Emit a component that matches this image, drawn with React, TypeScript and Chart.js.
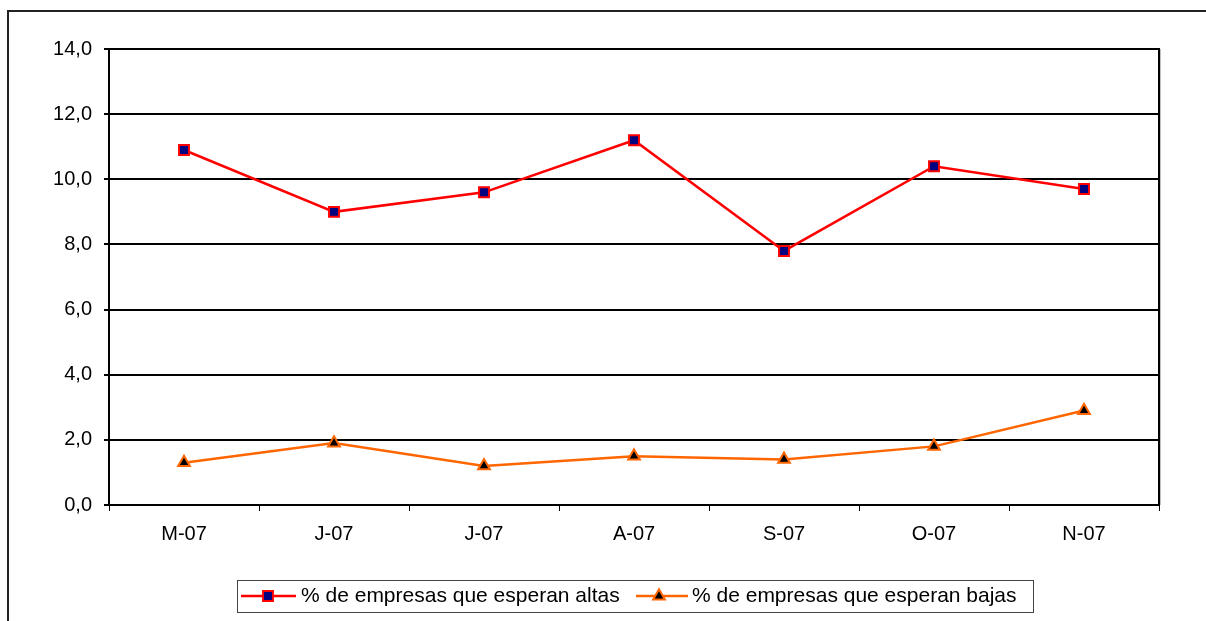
import React, { useEffect, useRef } from "react";
import { Chart, registerables } from "chart.js";

Chart.register(...registerables);

const categories = ["M-07", "J-07", "J-07", "A-07", "S-07", "O-07", "N-07"];
const altas = [10.9, 9.0, 9.6, 11.2, 7.8, 10.4, 9.7];
const bajas = [1.3, 1.9, 1.2, 1.5, 1.4, 1.8, 2.9];
const seriesNames = ["% de empresas que esperan altas", "% de empresas que esperan bajas"];
const yMin = 0;
const yMax = 14;
const yStep = 2;

const FONT = '"Liberation Sans", Arial, sans-serif';

const framePlugin = {
  id: "framePlugin",
  afterDraw(chart: any) {
    const { ctx, chartArea } = chart;
    const { left, top, right, bottom } = chartArea;
    ctx.save();
    // outer frame
    ctx.strokeStyle = "#222";
    ctx.lineWidth = 2;
    ctx.beginPath();
    ctx.moveTo(8, 621);
    ctx.lineTo(8, 11);
    ctx.lineTo(1206, 11);
    ctx.stroke();
    // light edge
    ctx.strokeStyle = "#c0c0c0";
    ctx.lineWidth = 1;
    ctx.beginPath();
    ctx.moveTo(right + 1.5, top);
    ctx.lineTo(right + 1.5, bottom);
    ctx.stroke();
    // plot border
    ctx.strokeStyle = "#000";
    ctx.lineWidth = 2;
    ctx.strokeRect(left, top, right - left, bottom - top);

    // legend
    const ly = 596;
    ctx.strokeStyle = "#444";
    ctx.lineWidth = 1;
    ctx.strokeRect(237.5, 580.5, 796, 32);
    ctx.font = `21px ${FONT}`;
    ctx.textBaseline = "middle";
    ctx.fillStyle = "#000";
    const entries = [
      { x0: 241, x1: 296, mx: 268, tx: 301 },
      { x0: 636, x1: 688, mx: 659, tx: 692 },
    ];
    chart.data.datasets.forEach((ds: any, i: number) => {
      const e = entries[i];
      ctx.strokeStyle = ds.borderColor;
      ctx.lineWidth = ds.borderWidth;
      ctx.beginPath();
      ctx.moveTo(e.x0, ly);
      ctx.lineTo(e.x1, ly);
      ctx.stroke();
      ctx.fillStyle = ds.pointBackgroundColor;
      ctx.strokeStyle = ds.pointBorderColor;
      ctx.lineWidth = 2;
      ctx.beginPath();
      if (ds.pointStyle === "rect") {
        const s = ds.pointRadius * Math.SQRT1_2;
        ctx.rect(e.mx - s, ly - s, 2 * s, 2 * s);
      } else {
        const r = ds.pointRadius;
        ctx.moveTo(e.mx, ly - r);
        ctx.lineTo(e.mx + r * Math.sin(Math.PI / 3), ly + r / 2);
        ctx.lineTo(e.mx - r * Math.sin(Math.PI / 3), ly + r / 2);
        ctx.closePath();
      }
      ctx.fill();
      ctx.stroke();
      ctx.fillStyle = "#000";
      ctx.fillText(ds.label, e.tx, ly);
    });
    ctx.restore();
  },
};

export default function App() {
  const ref = useRef<HTMLCanvasElement | null>(null);
  useEffect(() => {
    if (!ref.current) return;
    const chart = new Chart(ref.current, {
      type: "line",
      data: {
        labels: categories,
        datasets: [
          {
            label: seriesNames[0],
            data: altas,
            borderColor: "#ff0000",
            borderWidth: 2.5,
            pointStyle: "rect",
            pointRadius: 7,
            pointBorderWidth: 2,
            pointBackgroundColor: "#000080",
            pointBorderColor: "#ff0000",
            tension: 0,
          } as any,
          {
            label: seriesNames[1],
            data: bajas,
            borderColor: "#ff6600",
            borderWidth: 2.5,
            pointStyle: "triangle",
            pointRadius: 6.8,
            pointBorderWidth: 2,
            pointBackgroundColor: "#000000",
            pointBorderColor: "#ff6600",
            tension: 0,
          } as any,
        ],
      },
      options: {
        responsive: false,
        animation: false,
        devicePixelRatio: 1,
        layout: { padding: { left: 0, top: 49, right: 47, bottom: 0 } },
        plugins: { legend: { display: false }, tooltip: { enabled: false } },
        scales: {
          x: {
            offset: true,
            grid: {
              offset: true,
              drawOnChartArea: false,
              drawTicks: true,
              tickLength: 6,
              color: "#000",
              lineWidth: 1,
            },
            border: { color: "#000", width: 2 },
            ticks: {
              color: "#000",
              font: { family: FONT, size: 20 },
              padding: 11,
              maxRotation: 0,
              autoSkip: false,
            },
            afterFit: (scale: any) => {
              scale.height = 116;
            },
          },
          y: {
            min: yMin,
            max: yMax,
            grid: {
              color: "#000",
              lineWidth: 2,
              drawTicks: true,
              tickLength: 5,
            },
            border: { color: "#000", width: 2 },
            ticks: {
              stepSize: yStep,
              color: "#000",
              font: { family: FONT, size: 20 },
              padding: 12,
              callback: (v: any) => Number(v).toFixed(1).replace(".", ","),
            },
            afterFit: (scale: any) => {
              scale.width = 109;
            },
          },
        },
      },
      plugins: [framePlugin],
    });
    return () => chart.destroy();
  }, []);
  return (
    <canvas
      ref={ref}
      width={1206}
      height={621}
      style={{ position: "fixed", left: 0, top: 0, width: 1206, height: 621, background: "#fff" }}
    />
  );
}
